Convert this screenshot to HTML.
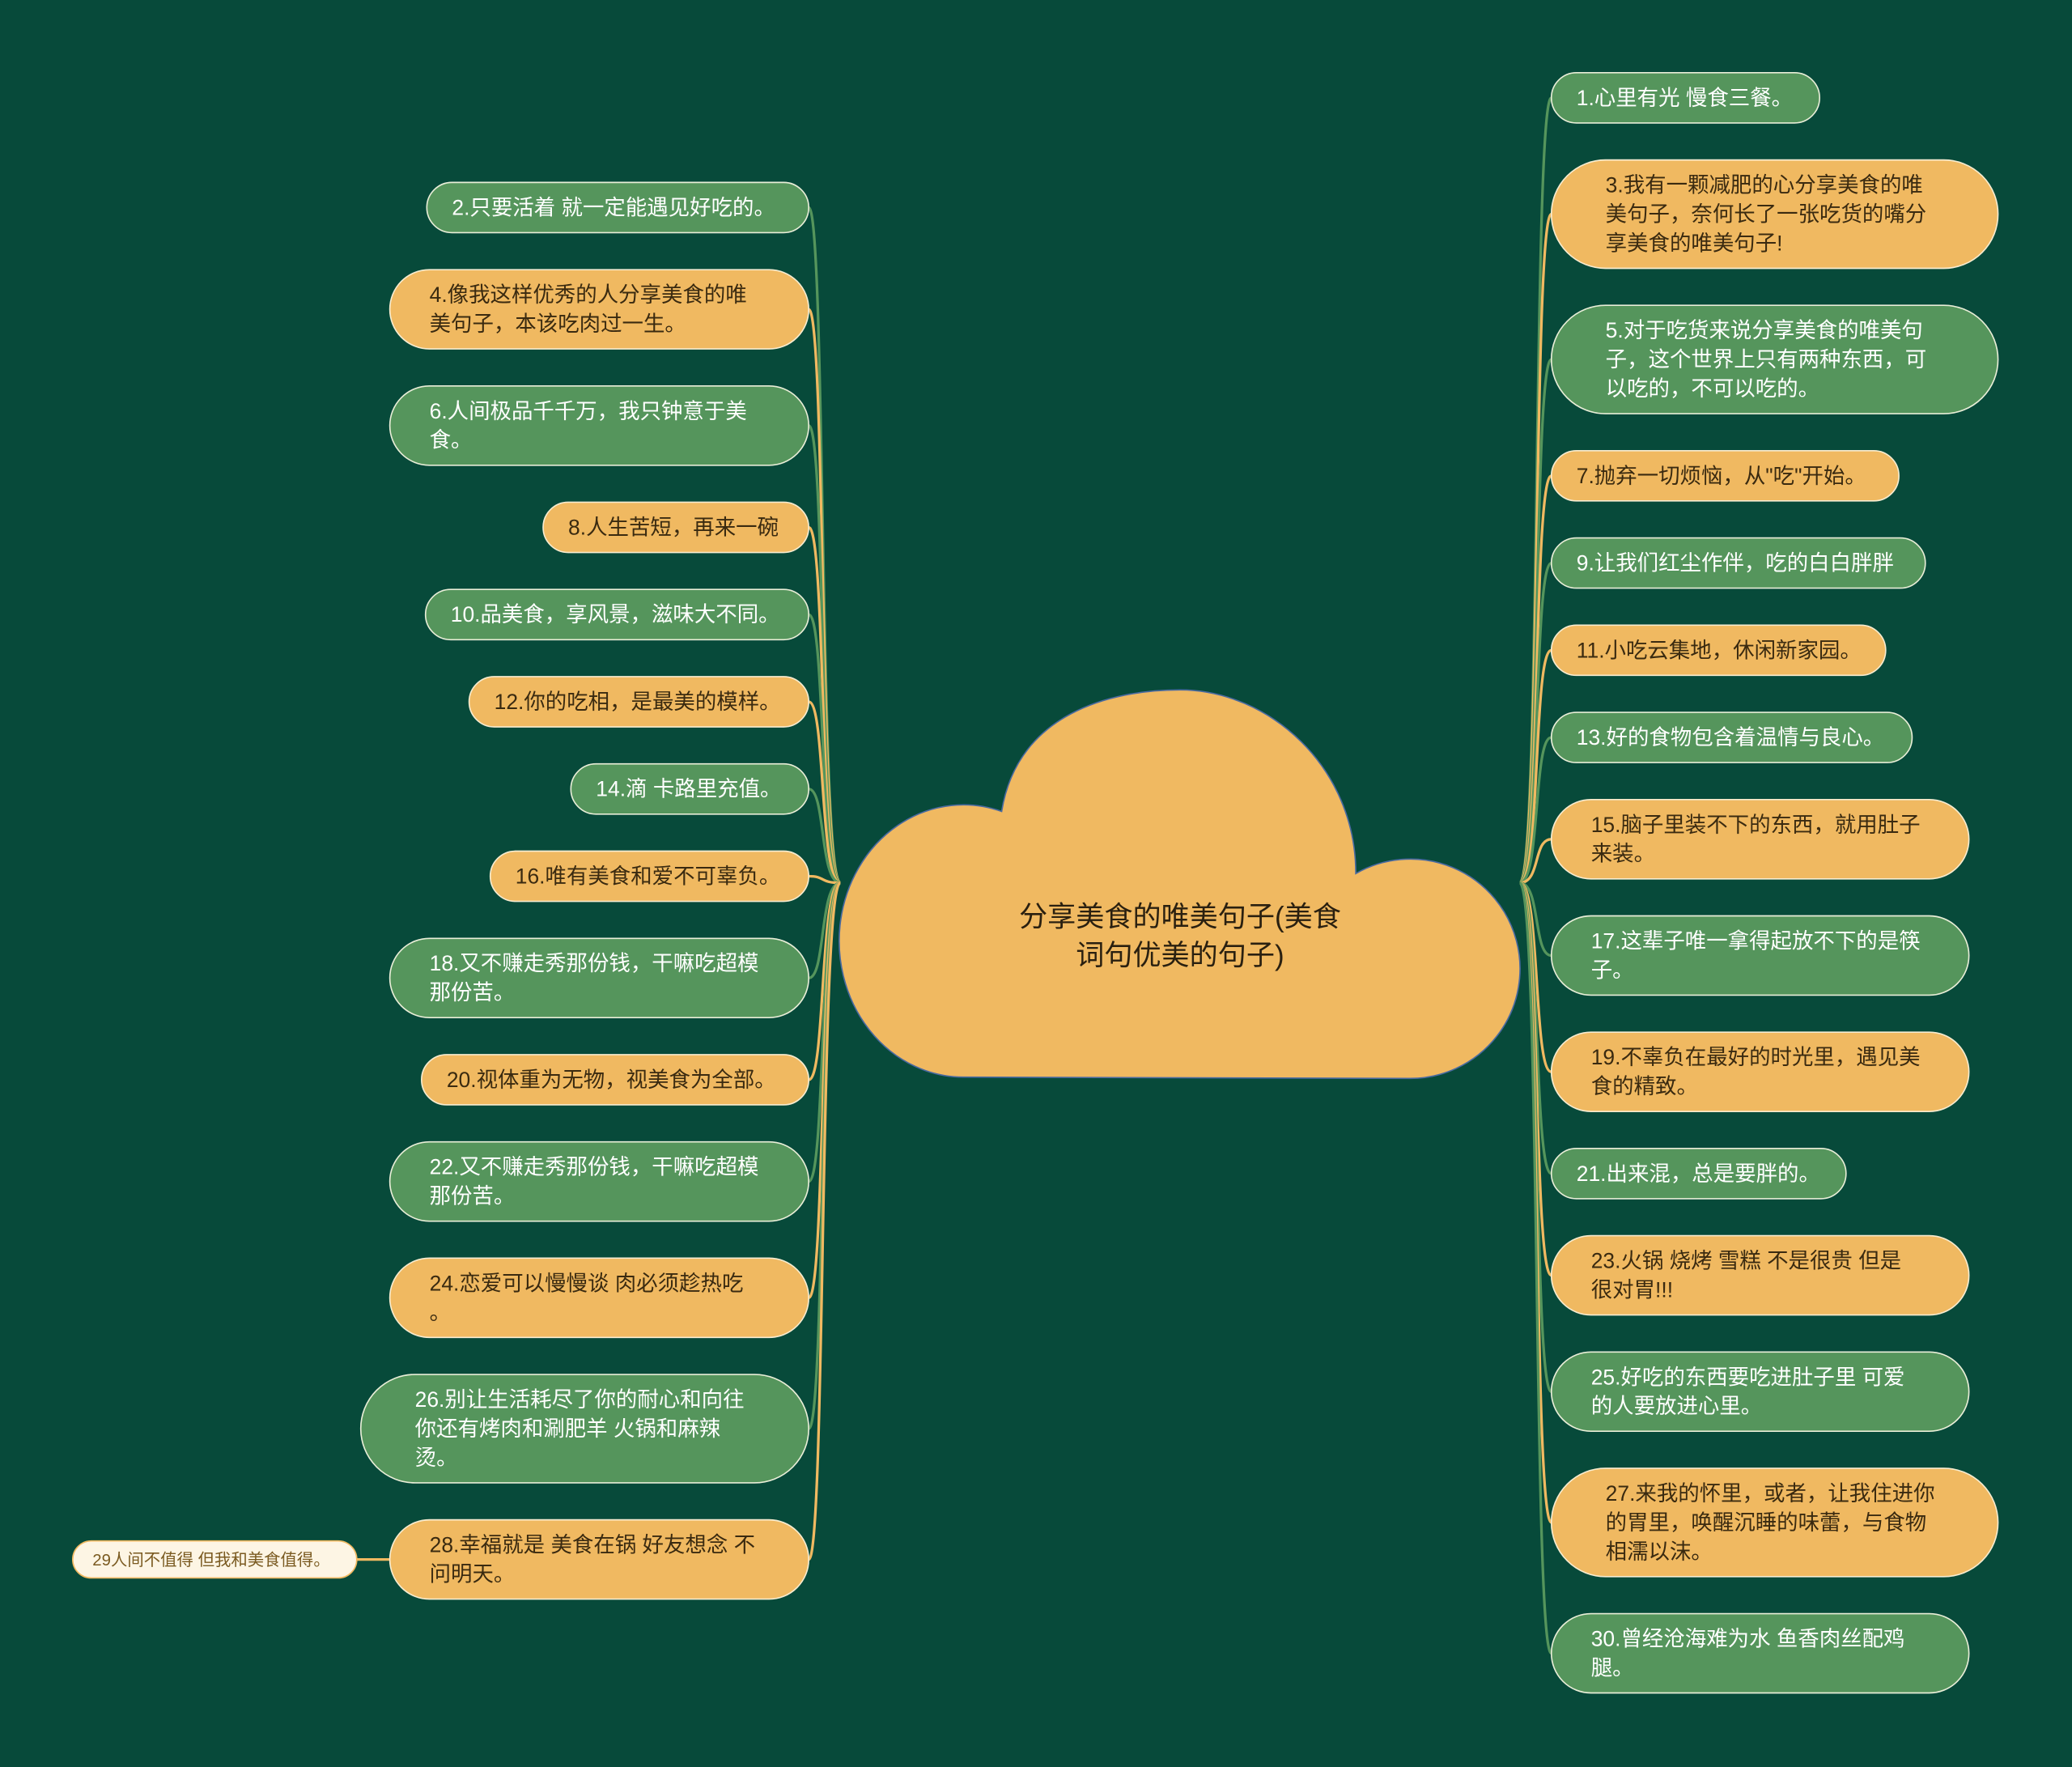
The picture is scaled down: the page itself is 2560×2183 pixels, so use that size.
<!DOCTYPE html>
<html><head><meta charset="utf-8"><style>
html,body{margin:0;padding:0;background:#074a3a;}
svg{display:block;}
text{font-family:"Liberation Sans","Noto Sans CJK SC",sans-serif;font-size:16.2px;}
.g{fill:#55955c;stroke:#e9eed8;stroke-width:1;}
.y{fill:#f0b961;stroke:#f7ecd0;stroke-width:1;}
.tg{fill:#ffffff;}
.ty{fill:#3a2a10;}
.lg{fill:none;stroke:#55955c;stroke-width:2;}
.ly{fill:none;stroke:#f0b961;stroke-width:2;}
</style></head><body>
<svg width="2560" height="2183" viewBox="0 0 1568 1337" xmlns="http://www.w3.org/2000/svg">
<rect width="1568" height="1337" fill="#074a3a"/>
<g>
<path class="lg" d="M636 668 C620 668,625 157,612 157"/>
<path class="ly" d="M636 668 C620 668,625 234,612 234"/>
<path class="lg" d="M636 668 C620 668,625 322,612 322"/>
<path class="ly" d="M636 668 C620 668,625 399,612 399"/>
<path class="lg" d="M636 668 C620 668,625 465,612 465"/>
<path class="ly" d="M636 668 C620 668,625 531,612 531"/>
<path class="lg" d="M636 668 C620 668,625 597,612 597"/>
<path class="ly" d="M636 668 C620 668,625 663,612 663"/>
<path class="lg" d="M636 668 C620 668,625 740,612 740"/>
<path class="ly" d="M636 668 C620 668,625 817,612 817"/>
<path class="lg" d="M636 668 C620 668,625 894,612 894"/>
<path class="ly" d="M636 668 C620 668,625 982,612 982"/>
<path class="lg" d="M636 668 C620 668,625 1081,612 1081"/>
<path class="ly" d="M636 668 C620 668,625 1180,612 1180"/>
<path class="ly" d="M295 1180 L270 1180"/>
</g>
<g>
<path class="lg" d="M1150 668 C1166 668,1160 74,1174 74"/>
<path class="ly" d="M1150 668 C1166 668,1160 162,1174 162"/>
<path class="lg" d="M1150 668 C1166 668,1160 272,1174 272"/>
<path class="ly" d="M1150 668 C1166 668,1160 360,1174 360"/>
<path class="lg" d="M1150 668 C1166 668,1160 426,1174 426"/>
<path class="ly" d="M1150 668 C1166 668,1160 492,1174 492"/>
<path class="lg" d="M1150 668 C1166 668,1160 558,1174 558"/>
<path class="ly" d="M1150 668 C1166 668,1160 635,1174 635"/>
<path class="lg" d="M1150 668 C1166 668,1160 723,1174 723"/>
<path class="ly" d="M1150 668 C1166 668,1160 811,1174 811"/>
<path class="lg" d="M1150 668 C1166 668,1160 888,1174 888"/>
<path class="ly" d="M1150 668 C1166 668,1160 965,1174 965"/>
<path class="lg" d="M1150 668 C1166 668,1160 1053,1174 1053"/>
<path class="ly" d="M1150 668 C1166 668,1160 1152,1174 1152"/>
<path class="lg" d="M1150 668 C1166 668,1160 1251,1174 1251"/>
</g>
<path d="M730 815 A94 103 0 1 1 758 614 C770 540,840 522,893 522 C960 522,1026 580,1026 661 A83 83 0 1 1 1067 816 Z" fill="#f0b961" stroke="#4a6aa0" stroke-width="1"/>
<text x="893" y="701" text-anchor="middle" style="font-size:21.5px" fill="#2a2010">分享美食的唯美句子(美食</text>
<text x="893" y="730" text-anchor="middle" style="font-size:21.5px" fill="#2a2010">词句优美的句子)</text>

<rect class="g" x="323" y="138" width="289" height="38" rx="19"/><text class="tg" x="342" y="162.5">2.只要活着 就一定能遇见好吃的。</text>
<rect class="y" x="295" y="204" width="317" height="60" rx="30"/><text class="ty" x="325" y="228.5">4.像我这样优秀的人分享美食的唯</text><text class="ty" x="325" y="250.5">美句子，本该吃肉过一生。</text>
<rect class="g" x="295" y="292" width="317" height="60" rx="30"/><text class="tg" x="325" y="316.5">6.人间极品千千万，我只钟意于美</text><text class="tg" x="325" y="338.5">食。</text>
<rect class="y" x="411" y="380" width="201" height="38" rx="19"/><text class="ty" x="430" y="404.5">8.人生苦短，再来一碗</text>
<rect class="g" x="322" y="446" width="290" height="38" rx="19"/><text class="tg" x="341" y="470.5">10.品美食，享风景，滋味大不同。</text>
<rect class="y" x="355" y="512" width="257" height="38" rx="19"/><text class="ty" x="374" y="536.5">12.你的吃相，是最美的模样。</text>
<rect class="g" x="432" y="578" width="180" height="38" rx="19"/><text class="tg" x="451" y="602.5">14.滴 卡路里充值。</text>
<rect class="y" x="371" y="644" width="241" height="38" rx="19"/><text class="ty" x="390" y="668.5">16.唯有美食和爱不可辜负。</text>
<rect class="g" x="295" y="710" width="317" height="60" rx="30"/><text class="tg" x="325" y="734.5">18.又不赚走秀那份钱，干嘛吃超模</text><text class="tg" x="325" y="756.5">那份苦。</text>
<rect class="y" x="319" y="798" width="293" height="38" rx="19"/><text class="ty" x="338" y="822.5">20.视体重为无物，视美食为全部。</text>
<rect class="g" x="295" y="864" width="317" height="60" rx="30"/><text class="tg" x="325" y="888.5">22.又不赚走秀那份钱，干嘛吃超模</text><text class="tg" x="325" y="910.5">那份苦。</text>
<rect class="y" x="295" y="952" width="317" height="60" rx="30"/><text class="ty" x="325" y="976.5">24.恋爱可以慢慢谈 肉必须趁热吃</text><text class="ty" x="325" y="998.5">。</text>
<rect class="g" x="273" y="1040" width="339" height="82" rx="41"/><text class="tg" x="314" y="1064.5">26.别让生活耗尽了你的耐心和向往</text><text class="tg" x="314" y="1086.5"> 你还有烤肉和涮肥羊 火锅和麻辣</text><text class="tg" x="314" y="1108.5">烫。</text>
<rect class="y" x="295" y="1150" width="317" height="60" rx="30"/><text class="ty" x="325" y="1174.5">28.幸福就是 美食在锅 好友想念 不</text><text class="ty" x="325" y="1196.5">问明天。</text>
<rect x="55" y="1166" width="215" height="28" rx="14" fill="#fdf5e4" stroke="#f0b961" stroke-width="1"/><text x="70" y="1184.5" style="font-size:12.5px" fill="#7a5a20">29人间不值得 但我和美食值得。</text>

<rect class="g" x="1174" y="55" width="203" height="38" rx="19"/><text class="tg" x="1193" y="79.5">1.心里有光 慢食三餐。</text>
<rect class="y" x="1174" y="121" width="338" height="82" rx="41"/><text class="ty" x="1215" y="145.5">3.我有一颗减肥的心分享美食的唯</text><text class="ty" x="1215" y="167.5">美句子，奈何长了一张吃货的嘴分</text><text class="ty" x="1215" y="189.5">享美食的唯美句子!</text>
<rect class="g" x="1174" y="231" width="338" height="82" rx="41"/><text class="tg" x="1215" y="255.5">5.对于吃货来说分享美食的唯美句</text><text class="tg" x="1215" y="277.5">子，这个世界上只有两种东西，可</text><text class="tg" x="1215" y="299.5">以吃的，不可以吃的。</text>
<rect class="y" x="1174" y="341" width="263" height="38" rx="19"/><text class="ty" x="1193" y="365.5">7.抛弃一切烦恼，从"吃"开始。</text>
<rect class="g" x="1174" y="407" width="283" height="38" rx="19"/><text class="tg" x="1193" y="431.5">9.让我们红尘作伴，吃的白白胖胖</text>
<rect class="y" x="1174" y="473" width="253" height="38" rx="19"/><text class="ty" x="1193" y="497.5">11.小吃云集地，休闲新家园。</text>
<rect class="g" x="1174" y="539" width="273" height="38" rx="19"/><text class="tg" x="1193" y="563.5">13.好的食物包含着温情与良心。</text>
<rect class="y" x="1174" y="605" width="316" height="60" rx="30"/><text class="ty" x="1204" y="629.5">15.脑子里装不下的东西，就用肚子</text><text class="ty" x="1204" y="651.5">来装。</text>
<rect class="g" x="1174" y="693" width="316" height="60" rx="30"/><text class="tg" x="1204" y="717.5">17.这辈子唯一拿得起放不下的是筷</text><text class="tg" x="1204" y="739.5">子。</text>
<rect class="y" x="1174" y="781" width="316" height="60" rx="30"/><text class="ty" x="1204" y="805.5">19.不辜负在最好的时光里，遇见美</text><text class="ty" x="1204" y="827.5">食的精致。</text>
<rect class="g" x="1174" y="869" width="223" height="38" rx="19"/><text class="tg" x="1193" y="893.5">21.出来混，总是要胖的。</text>
<rect class="y" x="1174" y="935" width="316" height="60" rx="30"/><text class="ty" x="1204" y="959.5">23.火锅 烧烤 雪糕 不是很贵 但是</text><text class="ty" x="1204" y="981.5">很对胃!!!</text>
<rect class="g" x="1174" y="1023" width="316" height="60" rx="30"/><text class="tg" x="1204" y="1047.5">25.好吃的东西要吃进肚子里 可爱</text><text class="tg" x="1204" y="1069.5">的人要放进心里。</text>
<rect class="y" x="1174" y="1111" width="338" height="82" rx="41"/><text class="ty" x="1215" y="1135.5">27.来我的怀里，或者，让我住进你</text><text class="ty" x="1215" y="1157.5">的胃里，唤醒沉睡的味蕾，与食物</text><text class="ty" x="1215" y="1179.5">相濡以沫。</text>
<rect class="g" x="1174" y="1221" width="316" height="60" rx="30"/><text class="tg" x="1204" y="1245.5">30.曾经沧海难为水 鱼香肉丝配鸡</text><text class="tg" x="1204" y="1267.5">腿。</text>
</svg>
</body></html>
